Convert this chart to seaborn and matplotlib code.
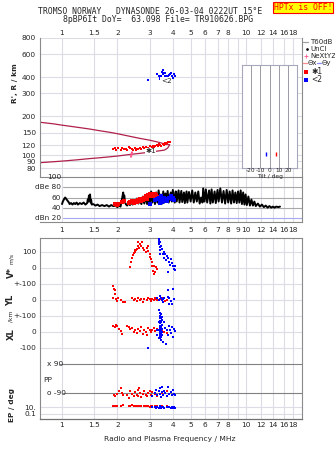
import numpy as np
import pandas as pd
import matplotlib
matplotlib.use("Agg")
import matplotlib.pyplot as plt
from matplotlib.ticker import NullLocator
import seaborn as sns

sns.set_style("white")
plt.rcParams['font.family'] = ['DejaVu Sans']

# ---------------- data ----------------
freq_ticks = [1, 1.5, 2, 3, 4, 5, 6, 7, 8, 9, 10, 12, 14, 16, 18]
freq_labels = ["1", "1.5", "2", "3", "4", "5", "6", "7", "8", "", "10", "12", "14", "16", "18"]
freq_labels_mid = ["1", "1.5", "2", "3", "4", "5", "6", "7", "8", "9", "10", "12", "14", "16", "18"]
height_ticks = [80, 90, 100, 120, 150, 200, 300, 400, 600, 800]

# model trace (crimson)
upper_f = [0.759, 0.9, 1.0, 1.2, 1.4, 1.6, 1.8, 2.0, 2.3, 2.6, 3.0, 3.3, 3.6, 3.85]
upper_h = [180, 175, 171, 165, 160, 155, 151, 147, 141, 136, 131, 127, 123, 121]
lower_f = [3.85, 3.75, 3.6, 3.3, 3.0, 2.6, 2.3, 2.0, 1.8, 1.6, 1.4, 1.2, 1.0, 0.9, 0.759]
lower_h = [121, 114, 110, 108, 106, 103.5, 101.5, 99, 97.5, 96, 94.5, 92.5, 90.5, 89.5, 88]

# O trace (red, *1)
o_f = [1.90, 1.93, 1.97, 2.02, 2.10, 2.13, 2.18, 2.22, 2.26, 2.30, 2.35, 2.40, 2.44, 2.48, 2.52,
       2.56, 2.60, 2.65, 2.70, 2.75, 2.80, 2.86, 2.92, 2.97, 3.02, 3.07, 3.12, 3.17, 3.22, 3.27,
       3.32, 3.37, 3.42, 3.47, 3.52, 3.57, 3.62, 3.67, 3.72, 3.78, 3.85]
o_h = [113, 115, 111, 114, 110, 115, 113, 112, 110, 116, 114, 112, 110, 114, 111,
       113, 112, 115, 112, 116, 114, 117, 115, 113, 118, 116, 119, 117, 118, 120,
       119, 122, 121, 119, 123, 121, 125, 122, 124, 126, 128]
# X trace (blue, <2)
x_f = [2.95, 3.30, 3.35, 3.40, 3.42, 3.45, 3.48, 3.50, 3.52, 3.55, 3.58, 3.60, 3.62, 3.65,
       3.68, 3.70, 3.75, 3.80, 3.85, 3.90, 3.95, 4.00, 4.05, 4.10]
x_h = [378, 420, 405, 400, 385, 410, 395, 440, 455, 420, 430, 395, 410, 430,
       400, 405, 400, 415, 420, 430, 405, 395, 420, 410]

# amplitude (dB)
db_f = [1.00, 1.01, 1.03, 1.04, 1.06, 1.07, 1.09, 1.10, 1.12, 1.14, 1.16, 1.18, 1.20, 1.22, 1.25,
        1.28, 1.31, 1.34, 1.37, 1.38, 1.39, 1.40, 1.41, 1.42, 1.43, 1.44, 1.45, 1.48, 1.52, 1.56,
        1.60, 1.65, 1.70, 1.75, 1.80, 1.85, 1.90, 1.95, 2.00, 2.04, 2.08, 2.10, 2.12, 2.14, 2.15,
        2.16, 2.18, 2.20, 2.23, 2.26, 2.30, 2.34, 2.38, 2.42, 2.46, 2.50, 2.55, 2.60, 2.65, 2.70,
        2.75, 2.80, 2.85, 2.90, 2.95, 3.00, 3.05, 3.10, 3.15, 3.20, 3.25, 3.30, 3.35, 3.40, 3.45,
        3.50, 3.55, 3.60, 3.65, 3.70, 3.75, 3.80, 3.90, 3.95, 4.00, 4.10, 4.15, 4.20, 4.30, 4.35,
        4.45, 4.50, 4.60, 4.65, 4.75, 4.80, 4.90, 5.00, 5.10, 5.20, 5.30, 5.40, 5.50, 5.60, 5.70,
        5.80, 5.85, 5.95, 6.05, 6.15, 6.30, 6.40, 6.50, 6.60, 6.75, 6.85, 7.00, 7.10, 7.25, 7.40,
        7.55, 7.70, 7.85, 8.00, 8.15, 8.30, 8.45, 8.60, 8.75, 8.90, 9.05, 9.20, 9.35, 9.50, 9.65,
        9.80, 9.95, 10.1, 10.3, 10.5, 10.7, 10.9, 11.1, 11.3, 11.6, 11.9, 12.2, 12.5, 12.8, 13.1,
        13.4, 13.7, 14.0, 14.3, 14.6, 15.0, 15.3]
db_v = [47, 52, 58, 60, 56, 54, 50, 47, 49, 46, 49, 47, 50, 46, 49,
        47, 50, 46, 49, 56, 52, 64, 58, 66, 50, 55, 46, 47, 44, 46,
        43, 45, 43, 45, 42, 45, 43, 44, 41, 44, 42, 50, 58, 66, 70,
        60, 64, 50, 46, 44, 50, 45, 52, 46, 55, 47, 58, 48, 54, 47,
        62, 48, 64, 47, 66, 46, 72, 50, 68, 47, 70, 50, 74, 52, 66,
        48, 72, 50, 68, 52, 73, 50, 70, 52, 75, 50, 72, 52, 74, 50,
        73, 51, 70, 49, 72, 50, 71, 52, 74, 50, 70, 52, 72, 48, 60,
        50, 78, 52, 76, 50, 74, 48, 76, 50, 72, 49, 75, 52, 78, 50,
        73, 48, 75, 50, 72, 48, 74, 50, 70, 49, 72, 50, 74, 47, 70,
        46, 66, 45, 62, 44, 56, 44, 52, 43, 48, 42, 46, 41, 44, 40,
        43, 40, 42, 40, 42, 41, 42]
db_red_f = [1.95, 1.98, 2.02, 2.12, 2.16, 2.30, 2.35, 2.40, 2.45, 2.50, 2.55, 2.60, 2.65, 2.70,
            2.72, 2.75, 2.80, 2.85, 2.90, 2.95, 3.00, 3.05, 3.05, 3.10, 3.15, 3.20, 3.25, 3.30]
db_red_v = [47, 46, 48, 52, 53, 49, 51, 53, 50, 54, 52, 55, 57, 54,
            58, 56, 60, 62, 57, 64, 66, 67, 62, 65, 63, 66, 64, 61]
db_blue_f = [3.00, 3.20, 3.30, 3.35, 3.40, 3.40, 3.45, 3.50, 3.50, 3.55, 3.60, 3.65, 3.70,
             3.80, 3.90, 3.95, 4.00, 4.05]
db_blue_v = [48, 55, 58, 60, 56, 50, 62, 58, 52, 54, 60, 57, 53, 59, 62, 57, 60, 55]

# tilt inset
tilt_red, tilt_blue = 7, -4
tilt_h = 102

# V* (m/s)
v_red_f = [2.35, 2.38, 2.40, 2.42, 2.45, 2.48, 2.50, 2.52, 2.55, 2.58, 2.60, 2.62, 2.65, 2.70,
           2.72, 2.75, 2.80, 2.85, 2.90, 2.92, 2.95, 3.00, 3.02, 3.05, 3.08, 3.10, 3.12, 3.15,
           3.18, 3.20, 3.25, 3.30, 3.35, 3.38]
v_red = [5, 35, 60, 80, 95, 110, 100, 115, 120, 135, 160, 128, 150, 140,
         160, 125, 115, 100, 125, 140, 105, 90, 70, 55, 35, 10, -20, -40,
         15, -25, 5, -5, 170, 185]
v_blue_f = [3.35, 3.36, 3.37, 3.38, 3.39, 3.40, 3.41, 3.42, 3.44, 3.50, 3.55, 3.57, 3.60, 3.65,
            3.68, 3.70, 3.75, 3.78, 3.80, 3.85, 3.90, 3.95, 4.00, 4.05, 4.10, 4.12]
v_blue = [185, 175, 165, 150, 90, 130, 160, 110, 140, 120, 90, 65, 100, 85,
          50, 75, 60, -25, 40, 20, 55, 30, 10, -5, -10, 15]

# YL (km)
yl_red_f = [1.90, 1.90, 1.92, 1.93, 1.95, 1.97, 2.00, 2.02, 2.10, 2.15, 2.20, 2.40, 2.45, 2.50,
            2.55, 2.60, 2.65, 2.70, 2.75, 2.80, 2.90, 2.95, 3.00, 3.05, 3.10, 3.15, 3.20, 3.25,
            3.30, 3.40, 3.50, 3.60, 3.65, 3.70]
yl_red = [90, 15, 70, 60, 40, 5, -5, 10, 0, -10, -15, 10, 0, 5,
          -5, 15, 0, 5, -10, 5, 0, 10, 5, -5, 5, 0, 10, 5,
          0, 5, 15, 10, -5, 0]
yl_blue_f = [3.30, 3.35, 3.40, 3.45, 3.50, 3.52, 3.55, 3.60, 3.75, 3.75, 3.80, 3.80, 3.90, 3.95,
             4.00, 4.05]
yl_blue = [15, 0, 25, 10, 0, -10, 5, 15, 62, 20, 12, -25, -5, -25, 69, 5]

# XL (km)
xl_red_f = [1.90, 1.93, 1.97, 2.00, 2.05, 2.10, 2.12, 2.25, 2.30, 2.35, 2.40, 2.45, 2.50, 2.55,
            2.60, 2.65, 2.70, 2.75, 2.80, 2.85, 2.90, 2.95, 3.00, 3.05, 3.10, 3.15, 3.20, 3.30,
            3.40, 3.50, 3.60, 3.70]
xl_red = [40, 30, 45, 35, 20, 5, -10, 40, 30, 20, 25, 0, 10, -5,
          20, 5, 30, -15, 15, 0, -20, 25, 10, 0, 15, 25, 5, 20,
          -10, 10, 0, -5]
xl_blue_f = [3.40, 3.40, 3.40, 3.40, 3.40, 3.40, 3.40, 3.40, 3.40, 3.40, 3.40, 3.40,
             3.45, 3.45, 3.45, 3.45, 3.45, 3.45, 3.45, 3.45,
             3.50, 3.50, 3.50, 3.50, 3.50, 3.50,
             3.37, 3.37, 3.37, 3.37,
             3.60, 3.65, 3.70, 3.75, 3.80, 3.85, 3.90, 3.95, 4.00, 4.05, 4.10, 3.68, 3.55,
             2.95, 3.30, 3.28]
xl_blue = [120, 100, 85, 70, 55, 40, 25, 10, 0, -10, -25, -40,
           110, 90, 60, 30, 5, -15, -30, -50,
           95, 75, 45, 20, 0, -20,
           140, 65, 15, -35,
           60, 25, 10, -20, 40, 15, -5, 30, -30, 20, 5, -75, -60,
           -100, -20, 10]

# PP (deg)
pp_red_f = [1.92, 1.95, 2.00, 2.05, 2.10, 2.12, 2.15, 2.25, 2.30, 2.35, 2.40, 2.45, 2.50, 2.55,
            2.58, 2.60, 2.62, 2.65, 2.70, 2.75, 2.80, 2.85, 2.90, 2.95, 3.00, 3.05, 3.10, 3.20,
            3.30, 3.50, 3.70]
pp_red = [-100, -110, -95, -80, -60, -90, -105, -100, -120, -75, -95, -110, -85, -100,
          -110, -70, -60, -90, -115, -95, -80, -100, -110, -90, -75, -100, -85, -95,
          -110, -90, -80]
pp_blue_f = [3.10, 3.20, 3.25, 3.30, 3.35, 3.40, 3.42, 3.45, 3.48, 3.50, 3.55, 3.60, 3.65, 3.70,
             3.75, 3.80, 3.90, 3.95, 4.00, 4.05, 4.10]
pp_blue = [-110, -90, -70, -100, -80, -60, -95, -115, -50, -85, -100, -75, -90, -110,
           -55, -95, -85, -105, -70, -95, -100]

# EP (deg)
ep_red_f = [1.90, 1.95, 2.00, 2.10, 2.15, 2.30, 2.35, 2.40, 2.45, 2.50, 2.55, 2.60, 2.65, 2.70,
            2.80, 2.85, 2.90, 2.95, 3.00, 3.05, 3.10, 3.20, 3.30, 3.50, 3.70]
ep_red = [20, 25, 15, 18, 30, 22, 16, 28, 20, 14, 24, 19, 26, 17, 21, 15, 23, 18, 12, 25, 16,
          20, 14, 18, 22]
ep_blue_f = [3.10, 3.20, 3.25, 3.30, 3.35, 3.40, 3.45, 3.50, 3.55, 3.60, 3.70, 3.80, 3.90, 3.95,
             4.00, 4.05, 4.10]
ep_blue = [8, 12, 6, 10, 5, 14, 7, 9, 11, 6, 8, 12, 5, 9, 7, 10, 6]

# ---------------- layout helpers ----------------
W, H = 335, 451
fig = plt.figure(figsize=(W / 100, H / 100), dpi=100)
F_LO, F_HI = 0.759, 20.15
RED, BLUE = "#ff0000", "#0000ff"
GRID = "#dcdce6"
FRAME = "#8a8a8a"
FS = 5.3
DOT = 3.6


def add_ax(l, t, r, b):
    return fig.add_axes([l / W, 1 - b / H, (r - l) / W, (b - t) / H])


def ftxt(x, y, s, **kw):
    kw.setdefault("fontsize", FS)
    kw.setdefault("va", "center")
    return fig.text(x / W, 1 - y / H, s, **kw)


def freq_axis(ax):
    ax.set_xscale("log")
    ax.set_xlim(F_LO, F_HI)
    ax.set_xticks(freq_ticks)
    ax.xaxis.set_minor_locator(NullLocator())
    for f in freq_ticks:
        ax.axvline(f, color=GRID, lw=0.8, zorder=0)
    ax.set_facecolor("white")


def dots(ax, x, y, color, s=DOT):
    sns.scatterplot(x=x, y=y, ax=ax, color=color, marker="s", s=s, linewidth=0, zorder=3, legend=False)


# ---------------- main panel ----------------
ax = add_ax(40, 38, 302, 177)
freq_axis(ax)
ax.set_yscale("log")
ax.set_ylim(68.3, 800)
ax.set_yticks(height_ticks)
ax.set_yticklabels([str(v) for v in height_ticks])
ax.yaxis.set_minor_locator(NullLocator())
for h in height_ticks:
    ax.axhline(h, color=GRID, lw=0.8, zorder=0)
ax.xaxis.tick_top()
ax.set_xticklabels(freq_labels)
ax.tick_params(axis="x", length=0, pad=1.5, labelsize=FS)
ax.tick_params(axis="y", length=2, color=FRAME, pad=1, labelsize=FS)
for sp in ["top", "bottom"]:
    ax.spines[sp].set_visible(False)
for sp in ["left", "right"]:
    ax.spines[sp].set_color(FRAME)
    ax.spines[sp].set_linewidth(0.8)

trace = pd.DataFrame({"f": upper_f + lower_f, "h": upper_h + lower_h})
sns.lineplot(data=trace, x="f", y="h", ax=ax, sort=False, estimator=None, color="#b0204a", lw=0.9)
dots(ax, o_f, o_h, RED)
dots(ax, x_f, x_h, BLUE)
ax.plot([2.38], [103], marker="$I$", color="#ff5a8c", ms=3.5, ls="none", zorder=4)
ax.text(3.03, 108, "✱1", fontsize=5.2, ha="center", va="center", zorder=5,
        bbox=dict(facecolor="white", edgecolor="none", pad=0.3))
ax.text(3.68, 376, "<2", fontsize=5.2, ha="center", va="center", zorder=5,
        bbox=dict(facecolor="white", edgecolor="none", pad=0.3))
ax.set_xlabel("")
ax.set_ylabel("")

# tilt inset
ai = add_ax(242, 65, 297, 168)
ai.set_xlim(-30, 30)
ai.set_yscale("log")
ai.set_ylim(80, 496)
ai.set_xticks([])
ai.set_yticks([])
ai.yaxis.set_minor_locator(NullLocator())
for t in [-20, -10, 0, 10, 20]:
    ai.axvline(t, color="#9a9aa8", lw=0.7, zorder=0)
for sp in ai.spines.values():
    sp.set_color("#a8a8bc")
    sp.set_linewidth(0.8)
ai.vlines([tilt_blue], [98.5], [106.5], color=BLUE, lw=1.0)
ai.vlines([tilt_red], [98.5], [106.5], color=RED, lw=1.0)
for t, lab in zip([-20, -10, 0, 10, 20], ["-20", "-10", "0", "10", "20"]):
    ftxt(269.5 + t * 0.925, 171, lab, fontsize=4.2, ha="center")
ftxt(270, 176.5, "Tilt / deg", fontsize=4.2, ha="center")

# ---------------- dB panel ----------------
ad = add_ax(40, 177, 302, 222)
freq_axis(ad)
ad.set_ylim(11.5, 100.6)
ad.set_yticks([])
ad.set_xticklabels(freq_labels_mid)
ad.tick_params(axis="x", length=0, pad=3.3, labelsize=FS)
ad.spines["left"].set_visible(False)
for sp in ["top", "bottom", "right"]:
    ad.spines[sp].set_color(FRAME)
    ad.spines[sp].set_linewidth(0.8)
x0 = (63 - 40) / 262
for lv in [80, 60, 40]:
    ad.axhline(lv, xmin=x0, color="#a8a8a8", lw=0.8, zorder=1)
ad.axhline(20, xmin=x0, color="#a8a8f0", lw=0.8, zorder=1)
for lv, lab in zip([100, 80, 60, 40, 20], ["100", "dBe 80", "60", "40", "dBn 20"]):
    ad.text((61 - 40) / 262, lv, lab, transform=ad.get_yaxis_transform(), ha="right",
            va="center", fontsize=FS)
sns.lineplot(x=db_f, y=db_v, ax=ad, sort=False, estimator=None, color="black", lw=1.4, zorder=2)
dots(ad, db_red_f, db_red_v, RED, s=6)
dots(ad, db_blue_f, db_blue_v, BLUE, s=6)

# ---------------- lower panel (V*, YL, XL, PP, EP) ----------------
V_OFF, YL_OFF, XL_OFF, PP_OFF = 400, 200, 0, -381


def ep_u(v):
    return -468.75 + 21.875 * np.log10(np.asarray(v, dtype=float) / 10.0)


al = add_ax(40, 238, 302, 419)
freq_axis(al)
al.set_ylim(-543.75, 587.5)
tick_u = [500, 400, 300, 200, 100, 0, -100, -469, -512]
tick_l = ["100", "0", "+-100", "0", "+-100", "0", "-100", "10.", "0.1"]
al.set_yticks(tick_u)
al.set_yticklabels(tick_l)
al.tick_params(axis="y", length=0, pad=2.5, labelsize=FS)
al.set_xticklabels(freq_labels)
al.tick_params(axis="x", length=0, pad=2.3, labelsize=FS)
for u in [500, 400, 300, 200, 100, 0, -100, -469, -512]:
    al.axhline(u, color=GRID, lw=0.8, zorder=0)
al.axhline(-200, xmin=(60 - 40) / 262, color="#808080", lw=0.8, zorder=1)
al.axhline(-381, xmin=(63 - 40) / 262, color="#808080", lw=0.8, zorder=1)
for sp in ["top", "left", "right"]:
    al.spines[sp].set_color(FRAME)
    al.spines[sp].set_linewidth(0.8)
al.spines["bottom"].set_color("#707070")
al.spines["bottom"].set_linewidth(0.9)
tr = al.get_yaxis_transform()
al.text((47 - 40) / 262, -200, "x 90", transform=tr, ha="left", va="center", fontsize=FS)
al.text((47 - 40) / 262, -381, "o -90", transform=tr, ha="left", va="center", fontsize=FS)
al.text((43 - 40) / 262, -300, "PP", transform=tr, ha="left", va="center", fontsize=FS)

dots(al, v_red_f, np.array(v_red) + V_OFF, RED)
dots(al, v_blue_f, np.array(v_blue) + V_OFF, BLUE)
dots(al, yl_red_f, np.array(yl_red) + YL_OFF, RED)
dots(al, yl_blue_f, np.array(yl_blue) + YL_OFF, BLUE)
dots(al, xl_red_f, np.array(xl_red) + XL_OFF, RED)
dots(al, xl_blue_f, np.array(xl_blue) + XL_OFF, BLUE)
dots(al, pp_red_f, np.array(pp_red) + 90 + PP_OFF, RED)
dots(al, pp_blue_f, np.array(pp_blue) + 90 + PP_OFF, BLUE)
dots(al, ep_red_f, ep_u(ep_red), RED)
dots(al, ep_blue_f, ep_u(ep_blue), BLUE)
al.set_xlabel("")
al.set_ylabel("")

# ---------------- texts ----------------
mono = "DejaVu Sans Mono"
ftxt(150, 12, "TROMSO NORWAY   DYNASONDE 26-03-04 0222UT 15°E", family=mono,
     fontsize=5.9, ha="center")
ftxt(158, 20, "8pBP6It DoY=  63.098 File= TR910626.BPG", family=mono, fontsize=5.9,
     ha="center")
ftxt(303, 7.5, "HPTx is OFF!", family=mono, fontsize=5.9, ha="center", color=RED,
     bbox=dict(facecolor="#ffff00", edgecolor=RED, pad=0.8, lw=0.8))

ftxt(15, 83, "R', R / km", rotation=90, ha="center", fontweight="bold")
ftxt(11, 272, "V*", rotation=90, ha="center", fontweight="bold", fontsize=6)
ftxt(11, 259, "m/s", rotation=90, ha="center", fontsize=4.3)
ftxt(11, 300, "YL", rotation=90, ha="center", fontweight="bold", fontsize=6)
ftxt(11, 316, "/km", rotation=90, ha="center", fontsize=4.3)
ftxt(11, 334, "XL", rotation=90, ha="center", fontweight="bold", fontsize=6)
ftxt(12, 405, "EP / deg", rotation=90, ha="center", fontweight="bold")
ftxt(170, 439, "Radio and Plasma Frequency / MHz", ha="center", fontsize=5.4)

# legend (outside right)
lx = 303
fig.add_artist(plt.Line2D([lx / W, (lx + 5) / W], [1 - 42 / H] * 2, color="#a0a0a0", lw=0.9))
ftxt(lx + 7, 42, "T60dB", fontsize=5)
fig.add_artist(plt.Line2D([(lx + 4) / W], [1 - 49 / H], marker="o", ms=0.9, color="black"))
ftxt(lx + 7, 49, "UnCl", fontsize=5)
fig.add_artist(plt.Line2D([(lx + 3) / W], [1 - 56 / H], marker="+", ms=3, mew=0.6, color="#ff5a8c"))
ftxt(lx + 7, 56, "NeXtYZ", fontsize=5)
fig.add_artist(plt.Line2D([lx / W, (lx + 4) / W], [1 - 63 / H] * 2, color="#ff8c8c", lw=0.9))
ftxt(lx + 5, 63, "Θx", fontsize=5)
fig.add_artist(plt.Line2D([(lx + 14) / W, (lx + 18) / W], [1 - 63 / H] * 2, color="#8c8cff", lw=0.9))
ftxt(lx + 19, 63, "Θy", fontsize=5)
fig.add_artist(plt.Line2D([(lx + 3) / W], [1 - 72 / H], marker="s", ms=2.2, color=RED, mew=0))
ftxt(lx + 8, 72, "✱1", fontsize=5.5)
fig.add_artist(plt.Line2D([(lx + 3) / W], [1 - 80 / H], marker="s", ms=2.2, color=BLUE, mew=0))
ftxt(lx + 8, 80, "<2", fontsize=5.5)

fig.savefig("out.png", dpi=100, facecolor="white")
